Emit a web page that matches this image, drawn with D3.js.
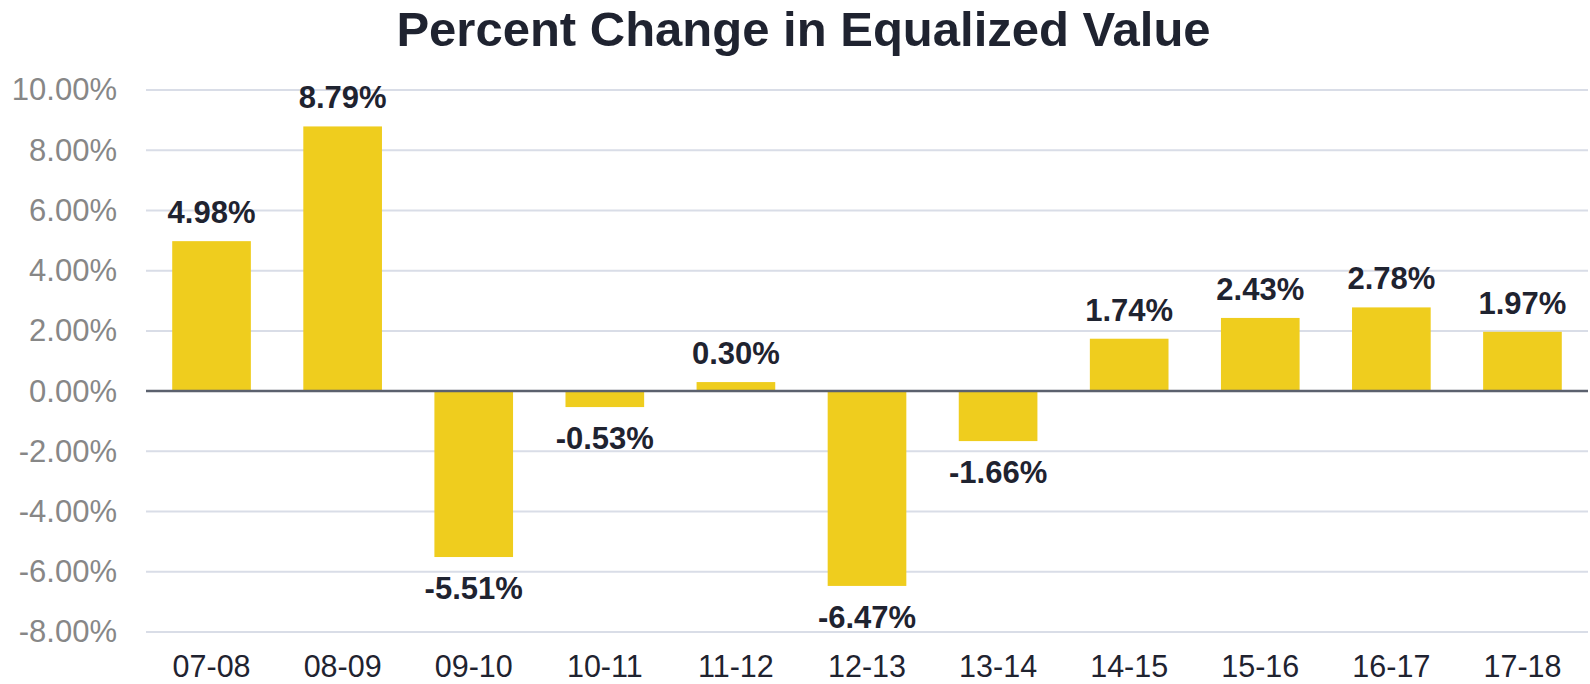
<!DOCTYPE html>
<html>
<head>
<meta charset="utf-8">
<script src="https://cdn.jsdelivr.net/npm/d3@7"></script>
<style>
  body { margin: 0; background: #fff; }
  svg text { font-family: "Liberation Sans", Arial, sans-serif; }
</style>
</head>
<body>
<div id="chart"></div>
<script>
// dados do grafico
var categorias = ["07-08", "08-09", "09-10", "10-11", "11-12", "12-13", "13-14", "14-15", "15-16", "16-17", "17-18"];
var valores = [4.98, 8.79, -5.51, -0.53, 0.30, -6.47, -1.66, 1.74, 2.43, 2.78, 1.97];
var ticksY = [-8, -6, -4, -2, 0, 2, 4, 6, 8, 10];
var titulo = "Percent Change in Equalized Value";

var width = 1590,
    height = 684;

var margem = {top: 90, right: 2, bottom: 52, left: 146};

// formato com hifen normal no lugar do sinal de menos
var fmt = d3.formatLocale({decimal: ".", thousands: ",", grouping: [3], currency: ["", ""], minus: "-"}).format(".2f");
function pct(d) { return fmt(d) + "%"; }

var svg = d3.select("#chart").append("svg")
    .attr("width", width)
    .attr("height", height);

var x = d3.scaleBand()
    .domain(categorias)
    .range([margem.left, width - margem.right])
    .paddingInner(0.4)
    .paddingOuter(0.2);

var y = d3.scaleLinear()
    .domain([-8, 10])
    .range([height - margem.bottom, margem.top]);

//titulo
svg.append("text")
    .attr("x", (395 + 1212) / 2)
    .attr("y", 46)
    .attr("text-anchor", "middle")
    .style("font-size", "49px")
    .style("font-weight", "bold")
    .style("fill", "#1f2330")
    .text(titulo);

//linhas de grade
svg.append("g")
    .selectAll("line")
    .data(ticksY.filter(function(d) { return d !== 0; }))
    .enter().append("line")
    .attr("x1", margem.left)
    .attr("x2", width - margem.right)
    .attr("y1", function(d) { return y(d); })
    .attr("y2", function(d) { return y(d); })
    .attr("stroke", "#d9dde7")
    .attr("stroke-width", 2);

//eixo y
var eixoY = d3.axisLeft(y)
    .tickValues(ticksY)
    .tickSize(0)
    .tickPadding(29)
    .tickFormat(pct);

var gY = svg.append("g")
    .attr("transform", "translate(" + margem.left + ",0)")
    .call(eixoY);
gY.select(".domain").remove();
gY.selectAll("text")
    .style("font-size", "31px")
    .style("font-family", "'Liberation Sans', Arial, sans-serif")
    .attr("fill", "#878787");

//barras
svg.append("g")
    .selectAll("rect")
    .data(valores)
    .enter().append("rect")
    .attr("x", function(d, i) { return x(categorias[i]); })
    .attr("width", x.bandwidth())
    .attr("y", function(d) { return y(Math.max(0, d)); })
    .attr("height", function(d) { return Math.abs(y(d) - y(0)); })
    .attr("fill", "#efcd1e");

//linha do zero
svg.append("line")
    .attr("x1", margem.left)
    .attr("x2", width - margem.right)
    .attr("y1", y(0))
    .attr("y2", y(0))
    .attr("stroke", "#5b616e")
    .attr("stroke-width", 2.5);

//rotulos das barras
svg.append("g")
    .selectAll("text")
    .data(valores)
    .enter().append("text")
    .attr("x", function(d, i) { return x(categorias[i]) + x.bandwidth() / 2; })
    .attr("y", function(d) { return d >= 0 ? y(d) - 18 : y(d) + 42; })
    .attr("text-anchor", "middle")
    .style("font-size", "31px")
    .style("font-weight", "bold")
    .style("fill", "#1f2330")
    .text(pct);

//eixo x
var eixoX = d3.axisBottom(x)
    .tickSize(0)
    .tickPadding(0);

var gX = svg.append("g")
    .attr("transform", "translate(0," + (height - margem.bottom) + ")")
    .call(eixoX);
gX.select(".domain").remove();
gX.selectAll("text")
    .attr("dy", null)
    .attr("y", 45)
    .style("font-size", "30.5px")
    .style("font-family", "'Liberation Sans', Arial, sans-serif")
    .attr("fill", "#1f2330");
</script>
</body>
</html>
